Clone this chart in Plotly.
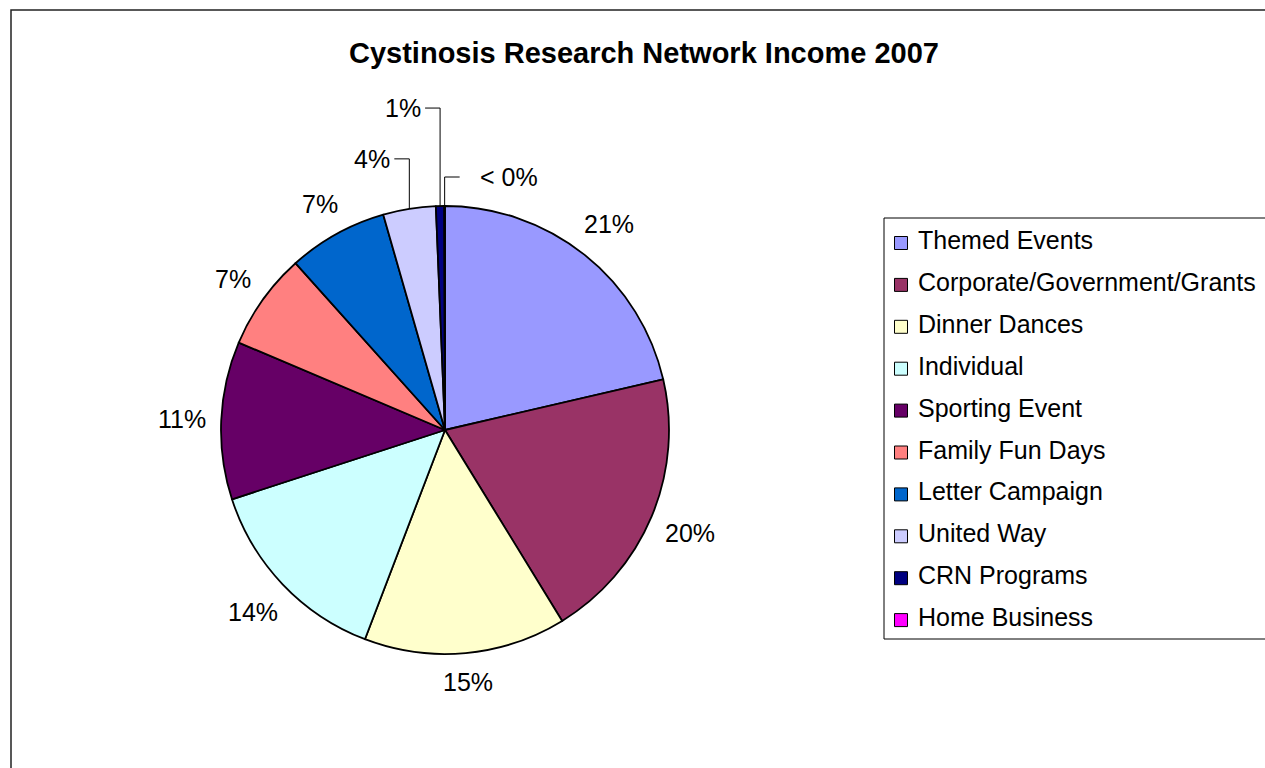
import math
import plotly.graph_objects as go

# ---------------- data ----------------
categories = ["Themed Events", "Corporate/Government/Grants", "Dinner Dances", "Individual",
              "Sporting Event", "Family Fun Days", "Letter Campaign", "United Way",
              "CRN Programs", "Home Business"]
values = [21.4, 19.9, 14.6, 14.2, 11.4, 7.0, 7.2, 3.8, 0.6, 0.05]
colors = ["#9999FF", "#993366", "#FFFFCC", "#CCFFFF", "#660066", "#FF8080",
          "#0066CC", "#CCCCFF", "#000080", "#FF00FF"]
title_text = "Cystinosis Research Network Income 2007"

# ---------------- layout constants ----------------
W, H = 1265, 768
CX, CY, R = 445, 430, 224          # pie centre / radius in pixels
FONT = "Liberation Sans, Arial, sans-serif"
FS = 25
# leader-line labels for the tiny slices: (lift in px, direction, gap)
leader = {7: (50, -1, 2), 8: (98, -1, 2), 9: (29, 1, 18)}
ARM = 15


def fx(x):
    return x / W


def fy(y):
    return 1 - y / H


total = sum(values)
pct_labels = []
for v in values:
    p = round(v / total * 100)
    pct_labels.append(f"{p}%" if p > 0 else "< 0%")

fig = go.Figure()
fig.add_trace(go.Pie(
    labels=categories, values=values, sort=False, direction="clockwise", rotation=0,
    marker=dict(colors=colors, line=dict(color="black", width=1.8)),
    textinfo="none", hoverinfo="label+percent", showlegend=False,
    domain=dict(x=[fx(CX - R), fx(CX + R)], y=[fy(CY + R), fy(CY - R)]),
))

shapes = []
annotations = []

# outer chart border
shapes.append(dict(type="rect", xref="paper", yref="paper",
                   x0=fx(11), x1=fx(W + 20), y0=fy(10), y1=fy(H + 20),
                   line=dict(color="#222222", width=1.5), fillcolor="rgba(0,0,0,0)"))

# title
annotations.append(dict(text="<b>" + title_text + "</b>", x=fx(644), y=fy(53),
                        xref="paper", yref="paper", xanchor="center", yanchor="middle",
                        showarrow=False, font=dict(family=FONT, size=29, color="black")))

# percentage labels
cum = 0.0
for i, v in enumerate(values):
    mid = (cum + v / 2) / total * 2 * math.pi
    cum += v
    s, c = math.sin(mid), math.cos(mid)
    lab = pct_labels[i]
    if i in leader:
        lift, d, gap = leader[i]
        x0, y0 = CX + R * s, CY - R * c
        y1 = y0 - lift
        x2 = x0 + d * ARM
        shapes.append(dict(type="path", xref="paper", yref="paper",
                           path=f"M {fx(x0)},{fy(y0)} L {fx(x0)},{fy(y1)} L {fx(x2)},{fy(y1)}",
                           line=dict(color="black", width=1)))
        annotations.append(dict(text=lab, x=fx(x2 + d * gap), y=fy(y1),
                                xref="paper", yref="paper",
                                xanchor="right" if d < 0 else "left", yanchor="middle",
                                showarrow=False, font=dict(family=FONT, size=FS, color="black")))
    else:
        w = FS * (0.556 * (len(lab) - 1) + 0.889)
        h = FS * 1.0
        ext = (w / 2) * abs(s) + (h / 2) * abs(c)
        dist = R + 14 + ext
        annotations.append(dict(text=lab, x=fx(CX + dist * s), y=fy(CY - dist * c),
                                xref="paper", yref="paper", xanchor="center", yanchor="middle",
                                showarrow=False, font=dict(family=FONT, size=FS, color="black")))

# legend (manual, Excel style)
LX0, LY0, LY1 = 884, 218, 639
shapes.append(dict(type="rect", xref="paper", yref="paper",
                   x0=fx(LX0), x1=fx(W + 20), y0=fy(LY0), y1=fy(LY1),
                   line=dict(color="black", width=1), fillcolor="white"))
for i, (name, col) in enumerate(zip(categories, colors)):
    yc = 240 + 41.9 * i
    shapes.append(dict(type="rect", xref="paper", yref="paper",
                       x0=fx(894.5), x1=fx(907.5), y0=fy(yc + 9.5), y1=fy(yc - 3.5),
                       line=dict(color="black", width=1), fillcolor=col))
    annotations.append(dict(text=name, x=fx(916), y=fy(yc), xref="paper", yref="paper",
                            xanchor="left", yanchor="middle", showarrow=False,
                            font=dict(family=FONT, size=FS, color="black")))

fig.update_layout(
    width=W, height=H, margin=dict(l=0, r=0, t=0, b=0),
    paper_bgcolor="white", plot_bgcolor="white",
    shapes=shapes, annotations=annotations, showlegend=False,
)

fig.write_html("out.html", config={"displayModeBar": False},
               post_script="document.body.style.margin='0';document.body.style.overflow='hidden';")
